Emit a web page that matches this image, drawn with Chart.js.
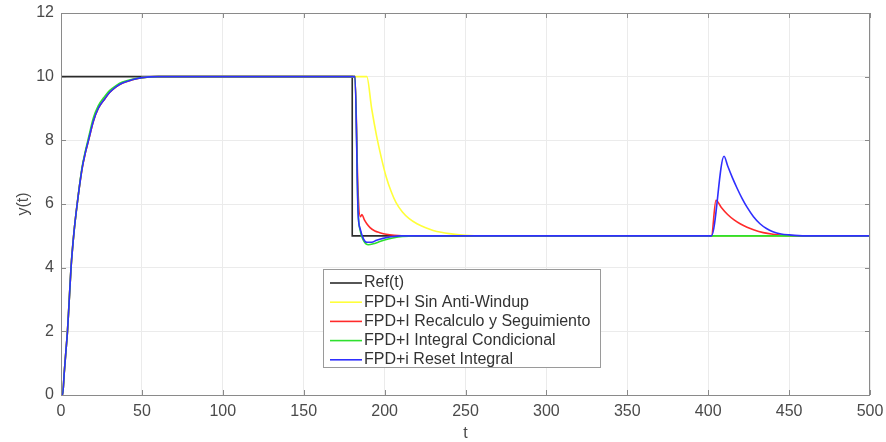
<!DOCTYPE html>
<html>
<head>
<meta charset="utf-8">
<script src="https://cdn.jsdelivr.net/npm/chart.js@4/dist/chart.umd.min.js"></script>
<style>
  html, body { margin: 0; padding: 0; background: #ffffff; }
  #wrap { width: 886px; height: 442px; }
</style>
</head>
<body>
<div id="wrap"><canvas id="c" width="886" height="442"></canvas></div>
<script>
// ---------------- DATA ----------------
const xTicks = [0, 50, 100, 150, 200, 250, 300, 350, 400, 450, 500];
const yTicks = [0, 2, 4, 6, 8, 10, 12];

const seriesNames = [
  "Ref(t)",
  "FPD+I Sin Anti-Windup",
  "FPD+I Recalculo y Seguimiento",
  "FPD+I Integral Condicional",
  "FPD+i Reset Integral"
];

// Reference signal
const refT = [0, 180, 180, 500];
const refY = [10, 10, 5, 5];

// Common rise from 0 to 10 (first step)
const riseT = [0, 1, 2, 3, 4, 5, 6.2, 8, 10, 13, 15, 17, 20, 23, 27, 30, 34, 38, 44, 50, 60];
const riseY = [0, 0, 0.7, 1.35, 2.0, 2.9, 4.0, 5.1, 6.0, 7.1, 7.6, 8.0, 8.6, 9.0, 9.3, 9.5, 9.68, 9.8, 9.9, 9.97, 10];

// FPD+I Sin Anti-Windup (yellow)
const noAwT = riseT.concat([189, 192, 195, 198, 201, 204, 207, 211, 215, 220, 225, 230, 235, 240, 250, 260, 500]);
const noAwY = riseY.concat([10, 9.0, 8.15, 7.45, 6.85, 6.4, 6.05, 5.75, 5.55, 5.38, 5.26, 5.17, 5.11, 5.07, 5.02, 5.0, 5.0]);

// FPD+I Recalculo y Seguimiento (red)
const recT = riseT.concat([181.7, 183.5, 185, 186, 187.5, 189, 191, 194, 197, 201, 206, 215, 402, 404.8, 408, 412, 416, 420, 424, 428, 434, 440, 450, 460, 500]);
const recY = riseY.concat([10, 6.5, 5.6, 5.67, 5.5, 5.38, 5.26, 5.15, 5.1, 5.05, 5.02, 5.0, 5.0, 6.12, 5.9, 5.67, 5.5, 5.37, 5.27, 5.19, 5.1, 5.05, 5.01, 5.0, 5.0]);

// FPD+I Integral Condicional (green)
const condT = [0, 1, 2, 3, 4, 5, 6.2, 8, 10, 13, 15, 17, 20, 23, 27, 30, 34, 38, 44, 50, 60,
               181.7, 183.6, 185, 187, 190, 193, 196, 200, 205, 211, 220, 500];
const condY = [0, 0, 0.7, 1.35, 2.0, 2.9, 4.0, 5.1, 6.0, 7.15, 7.65, 8.08, 8.7, 9.08, 9.38, 9.56, 9.72, 9.83, 9.92, 9.97, 10,
               10, 5.8, 5.15, 4.85, 4.72, 4.75, 4.8, 4.87, 4.93, 4.98, 5.0, 5.0];

// FPD+i Reset Integral (blue)
const resetT = riseT.concat([181.7, 183.6, 185, 187, 189, 192, 195, 199, 204, 210, 402, 409.8, 412, 415, 418, 421, 424, 428, 432, 436, 440, 445, 450, 460, 500]);
const resetY = riseY.concat([10, 5.75, 5.2, 4.9, 4.8, 4.8, 4.86, 4.92, 4.97, 5.0, 5.0, 7.5, 7.2, 6.82, 6.48, 6.17, 5.9, 5.6, 5.38, 5.23, 5.13, 5.06, 5.03, 5.0, 5.0]);

// ---------------- STYLE ----------------
const colors = ["#2b2b2b", "#ffff3a", "#ff2a2a", "#2ee02e", "#2f2fff"];
const FONT = "'Liberation Sans', Arial, Helvetica, sans-serif";
const TEXT = "#4a4a4a";

function pts(ts, ys) { return ts.map((t, i) => ({ x: t, y: ys[i] })); }

const seriesData = [
  pts(refT, refY),
  pts(noAwT, noAwY),
  pts(recT, recY),
  pts(condT, condY),
  pts(resetT, resetY)
];

const drawOrder = [4, 3, 2, 1, 0];

const datasets = seriesData.map((d, i) => ({
  label: seriesNames[i],
  data: d,
  borderColor: colors[i],
  backgroundColor: colors[i],
  borderWidth: 1.6,
  pointRadius: 0,
  fill: false,
  tension: i === 0 ? 0 : 0.3,
  cubicInterpolationMode: i === 0 ? 'default' : 'monotone',
  order: drawOrder[i]
}));

// frame + inward tick marks + legend inside the plot
const framePlugin = {
  id: 'frame',
  afterDatasetsDraw(chart) {
    const { ctx, chartArea: a, scales } = chart;
    ctx.save();
    ctx.strokeStyle = '#8a8a8a';
    ctx.lineWidth = 1;
    ctx.strokeRect(a.left + 0.5, a.top + 0.5, a.right - a.left - 1, a.bottom - a.top);
    const L = 5;
    ctx.beginPath();
    xTicks.forEach(v => {
      const px = Math.round(scales.x.getPixelForValue(v)) + 0.5;
      ctx.moveTo(px, a.bottom); ctx.lineTo(px, a.bottom - L);
      ctx.moveTo(px, a.top); ctx.lineTo(px, a.top + L);
    });
    yTicks.forEach(v => {
      const py = Math.round(scales.y.getPixelForValue(v)) + 0.5;
      ctx.moveTo(a.left, py); ctx.lineTo(a.left + L, py);
      ctx.moveTo(a.right, py); ctx.lineTo(a.right - L, py);
    });
    ctx.stroke();

    // legend
    const bx = a.left + 262, by = a.top + 256, bw = 277, bh = 98;
    ctx.fillStyle = '#ffffff';
    ctx.fillRect(bx, by, bw, bh);
    ctx.strokeStyle = '#9a9a9a';
    ctx.strokeRect(bx + 0.5, by + 0.5, bw, bh);
    ctx.font = "16px " + FONT;
    ctx.textBaseline = 'middle';
    ctx.textAlign = 'left';
    chart.data.datasets.forEach((ds, i) => {
      const yy = by + 14 + i * 19.2;
      ctx.strokeStyle = ds.borderColor;
      ctx.lineWidth = 1.6;
      ctx.beginPath();
      ctx.moveTo(bx + 7, yy); ctx.lineTo(bx + 39, yy);
      ctx.stroke();
      ctx.fillStyle = '#333333';
      ctx.fillText(ds.label, bx + 41, yy);
    });
    ctx.restore();
  }
};

new Chart(document.getElementById('c'), {
  type: 'line',
  data: { datasets },
  options: {
    responsive: false,
    devicePixelRatio: 1,
    animation: false,
    parsing: true,
    layout: { padding: { left: 0, right: 16, top: 13, bottom: 0 } },
    plugins: { legend: { display: false }, tooltip: { enabled: false } },
    scales: {
      x: {
        type: 'linear',
        min: 0, max: 500,
        afterBuildTicks: s => { s.ticks = xTicks.map(v => ({ value: v })); },
        afterFit: s => { s.height = 47; s.paddingLeft = 0; s.paddingRight = 0; },
        ticks: { color: TEXT, font: { family: FONT, size: 16 }, padding: 7, maxRotation: 0 },
        grid: { color: '#ebebeb', drawTicks: false },
        border: { display: false },
        title: { display: true, text: 't', color: TEXT, font: { family: FONT, size: 16, lineHeight: 1 }, padding: { top: 0, bottom: 0 } }
      },
      y: {
        type: 'linear',
        min: 0, max: 12,
        afterBuildTicks: s => { s.ticks = yTicks.map(v => ({ value: v })); },
        afterFit: s => { s.width = 61; s.paddingTop = 0; s.paddingBottom = 0; },
        ticks: { color: TEXT, font: { family: FONT, size: 16 }, padding: 7 },
        grid: { color: '#ebebeb', drawTicks: false },
        border: { display: false },
        title: { display: true, text: 'y(t)', color: TEXT, font: { family: FONT, size: 16, lineHeight: 1 }, padding: { top: 16, bottom: 0 } }
      }
    }
  },
  plugins: [framePlugin]
});
</script>
</body>
</html>
